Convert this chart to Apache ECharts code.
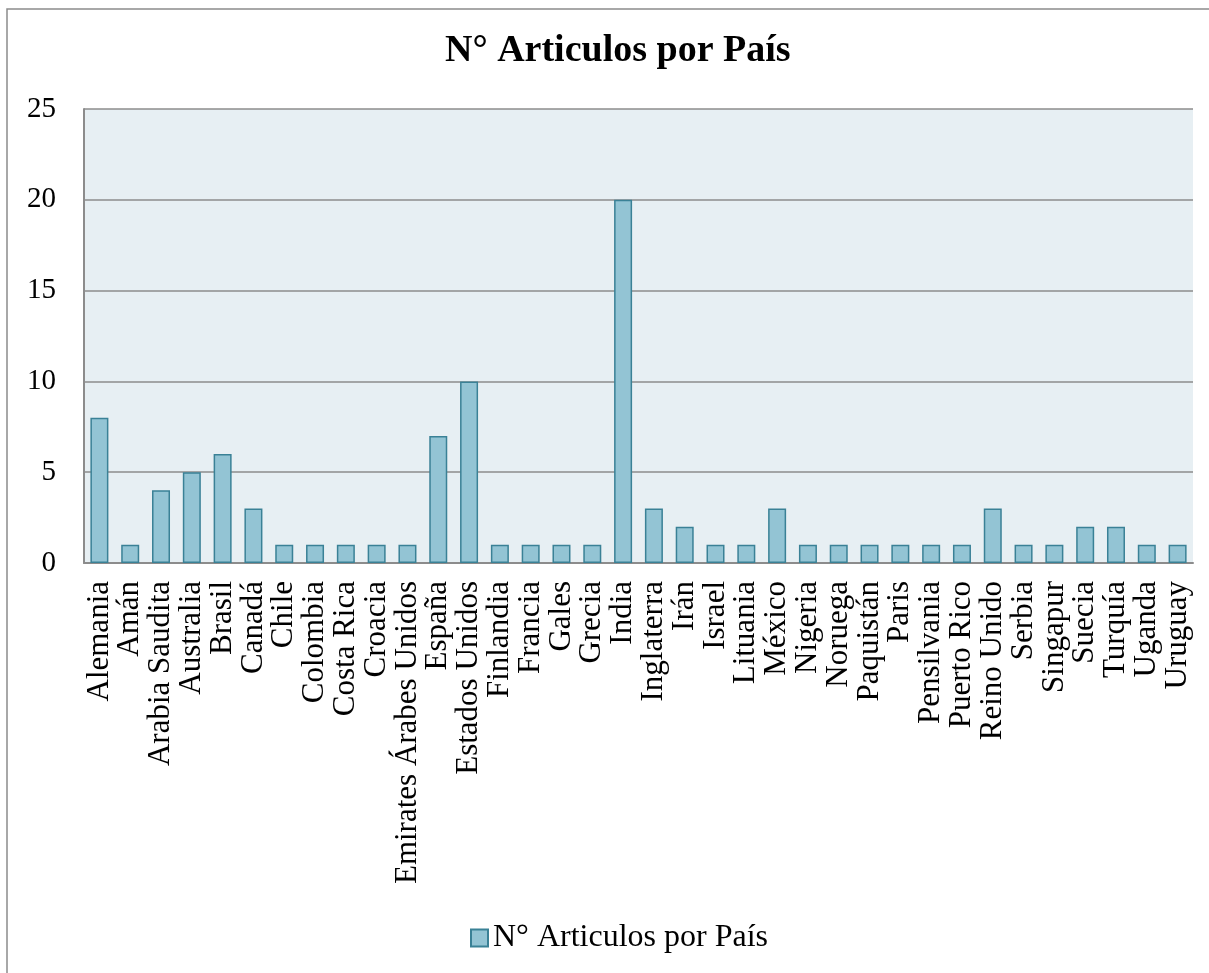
<!DOCTYPE html>
<html>
<head>
<meta charset="utf-8">
<script src="https://cdn.jsdelivr.net/npm/echarts@6/dist/echarts.min.js"></script>
<style>
  html, body { margin: 0; padding: 0; background: #fff; }
  #chart { width: 1209px; height: 973px; }
</style>
</head>
<body>
<div id="chart"></div>
<script>
// Countries and article counts
const countries = [
  'Alemania', 'Amán', 'Arabia Saudita', 'Australia', 'Brasil', 'Canadá', 'Chile',
  'Colombia', 'Costa Rica', 'Croacia', 'Emirates Árabes Unidos', 'España',
  'Estados Unidos', 'Finlandia', 'Francia', 'Gales', 'Grecia', 'India',
  'Inglaterra', 'Irán', 'Israel', 'Lituania', 'México', 'Nigeria', 'Noruega',
  'Paquistán', 'Paris', 'Pensilvania', 'Puerto Rico', 'Reino Unido', 'Serbia',
  'Singapur', 'Suecia', 'Turquía', 'Uganda', 'Uruguay'
];
const articles = [
  8, 1, 4, 5, 6, 3, 1,
  1, 1, 1, 1, 7,
  10, 1, 1, 1, 1, 20,
  3, 2, 1, 1, 3, 1, 1,
  1, 1, 1, 1, 3, 1,
  1, 2, 2, 1, 1
];
const seriesName = 'N° Articulos por País';
const yTicks = { min: 0, max: 25, interval: 5 };

const serif = '"Liberation Serif", "DejaVu Serif", serif';
const chart = echarts.init(document.getElementById('chart'));
chart.setOption({
  animation: false,
  backgroundColor: '#ffffff',
  graphic: [{
    type: 'rect',
    shape: { x: 7, y: 9, width: 1220, height: 980 },
    style: { fill: 'none', stroke: '#8c8c8c', lineWidth: 1.5 },
    silent: true, z: -1
  }],
  title: {
    text: seriesName,
    left: 440,
    top: 27,
    textStyle: { fontFamily: serif, fontWeight: 'bold', fontSize: 38, color: '#000' }
  },
  legend: {
    bottom: 14,
    left: 465,
    itemWidth: 17,
    itemHeight: 17,
    itemGap: 4,
    icon: 'rect',
    textStyle: { fontFamily: serif, fontSize: 32, color: '#000' },
    data: [seriesName]
  },
  grid: { left: 84, right: 16, top: 109, bottom: 410, containLabel: false,
          show: true, backgroundColor: '#e7eff3', borderWidth: 0 },
  xAxis: {
    type: 'category',
    data: countries,
    axisLine: { show: true, lineStyle: { color: '#8c8c8c', width: 2 } },
    axisTick: { show: false },
    axisLabel: { rotate: 90, interval: 0, margin: 18,
                 fontFamily: serif, fontSize: 31, color: '#000' }
  },
  yAxis: {
    type: 'value',
    min: yTicks.min, max: yTicks.max, interval: yTicks.interval,
    axisLine: { show: true, lineStyle: { color: '#8c8c8c', width: 2 } },
    axisTick: { show: false },
    splitLine: { lineStyle: { color: '#8c8c8c', width: 1.5 } },
    axisLabel: { margin: 28, fontFamily: serif, fontSize: 29, color: '#000' }
  },
  series: [{
    name: seriesName,
    type: 'bar',
    data: articles,
    barWidth: 18,
    itemStyle: { color: '#93c4d4', borderColor: '#3a8196', borderWidth: 1.5 }
  }]
});
</script>
</body>
</html>
